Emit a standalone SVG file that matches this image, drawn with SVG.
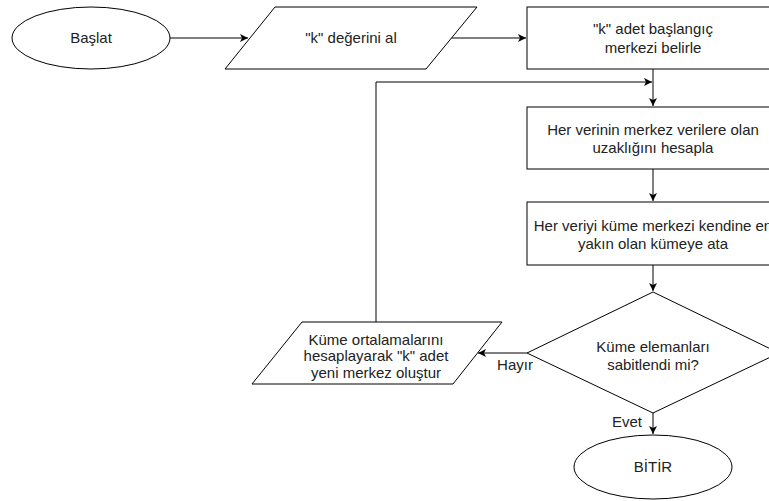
<svg xmlns="http://www.w3.org/2000/svg" width="769" height="501" viewBox="0 0 769 501">
<style>
.shape{fill:#fff;stroke:#000;stroke-width:1}
.t{font-family:"Liberation Sans",Arial,sans-serif;font-size:15px;fill:#222;text-anchor:middle}
.c{fill:none;stroke:#000;stroke-width:1}
</style>
<defs>
<marker id="ah" markerUnits="userSpaceOnUse" markerWidth="10" markerHeight="10" refX="8" refY="4" orient="auto">
<path d="M0,0 L8,4 L0,8 L2,4 z" fill="#000"/>
</marker>
</defs>
<rect width="769" height="501" fill="#fff"/>
<g id="connectors">
<path class="c" d="M170,38 L248,38" marker-end="url(#ah)"/>
<path class="c" d="M451,38 L526,38" marker-end="url(#ah)"/>
<path class="c" d="M653,69 L653,106" marker-end="url(#ah)"/>
<path class="c" d="M376,322 L376,82 L652,82" marker-end="url(#ah)"/>
<path class="c" d="M653,169 L653,201" marker-end="url(#ah)"/>
<path class="c" d="M653,265 L653,291" marker-end="url(#ah)"/>
<path class="c" d="M527,353 L478,353" marker-end="url(#ah)"/>
<path class="c" d="M653,413 L653,434" marker-end="url(#ah)"/>
<text class="t" x="515" y="370">Hayır</text>
<text class="t" x="627" y="427">Evet</text>
</g>
<g id="start">
<ellipse class="shape" cx="91" cy="38" rx="79" ry="31"/>
<text class="t" x="91" y="43">Başlat</text>
</g>
<g id="input-k">
<path class="shape" d="M275,7 L477,7 L426,69 L225,69 Z"/>
<text class="t" x="351" y="43">"k" değerini al</text>
</g>
<g id="init-centers">
<rect class="shape" x="527" y="7" width="252" height="62"/>
<text class="t" x="653" y="34">"k" adet başlangıç</text>
<text class="t" x="653" y="53">merkezi belirle</text>
</g>
<g id="distance">
<rect class="shape" x="527" y="107" width="252" height="62"/>
<text class="t" x="653" y="135">Her verinin merkez verilere olan</text>
<text class="t" x="653" y="153">uzaklığını hesapla</text>
</g>
<g id="assign">
<rect class="shape" x="527" y="202" width="252" height="63"/>
<text class="t" x="653" y="231">Her veriyi küme merkezi kendine en</text>
<text class="t" x="653" y="249">yakın olan kümeye ata</text>
</g>
<g id="decision">
<path class="shape" d="M653,292 L779,353 L653,413 L527,353 Z"/>
<text class="t" x="653" y="352">Küme elemanları</text>
<text class="t" x="653" y="370">sabitlendi mi?</text>
</g>
<g id="new-centers">
<path class="shape" d="M302,322 L502,322 L453,384 L252,384 Z"/>
<text class="t" x="376" y="345">Küme ortalamalarını</text>
<text class="t" x="376" y="361">hesaplayarak "k" adet</text>
<text class="t" x="376" y="378">yeni merkez oluştur</text>
</g>
<g id="end">
<ellipse class="shape" cx="653" cy="467" rx="79" ry="32"/>
<text class="t" x="653" y="472">BİTİR</text>
</g>
</svg>
